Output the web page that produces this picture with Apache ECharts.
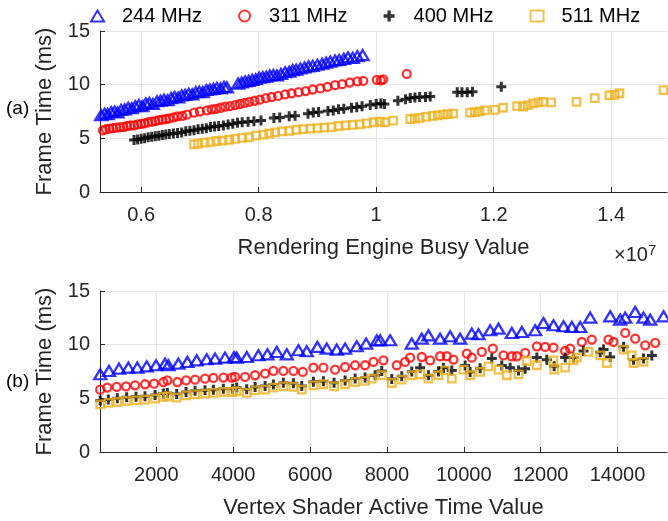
<!DOCTYPE html>
<html><head><meta charset="utf-8">
<script src="https://cdn.jsdelivr.net/npm/echarts@6.0.0/dist/echarts.min.js"></script>
<style>html,body{margin:0;padding:0;background:#fff}#c{width:668px;height:521px}</style>
</head><body><div id="c"></div>
<script>
// ---- Data ----
const seriesNames = ['244 MHz', '311 MHz', '400 MHz', '511 MHz'];
// Top panel: x = Rendering Engine Busy Value (units of 1e7), y = Frame Time (ms)
const top244 = [[0.532,7.15],[0.538,7.3],[0.543,7.25],[0.549,7.45],[0.555,7.5],[0.560,7.4],[0.566,7.65],[0.572,7.7],[0.578,7.85],[0.584,7.8],[0.590,8.0],[0.596,8.1],[0.602,8.0],[0.608,8.25],[0.614,8.3],[0.620,8.2],[0.627,8.45],[0.633,8.5],[0.639,8.6],[0.645,8.55],[0.651,8.75],[0.657,8.85],[0.663,8.8],[0.669,9.0],[0.675,9.05],[0.681,9.15],[0.687,9.1],[0.693,9.3],[0.699,9.35],[0.705,9.3],[0.711,9.5],[0.717,9.55],[0.723,9.6],[0.729,9.7],[0.735,9.65],[0.741,9.8],[0.746,9.75],
  [0.765,10.1],[0.771,10.2],[0.777,10.3],[0.783,10.35],[0.789,10.45],[0.795,10.5],[0.801,10.65],[0.807,10.7],[0.813,10.75],[0.819,10.85],[0.825,10.9],[0.831,10.85],[0.838,11.0],[0.845,11.15],[0.852,11.2],[0.858,11.35],[0.864,11.4],[0.871,11.5],[0.878,11.6],[0.885,11.7],[0.892,11.75],[0.900,11.85],[0.908,11.95],[0.915,12.05],[0.922,12.15],[0.930,12.25],[0.937,12.3],[0.945,12.4],[0.952,12.55],[0.960,12.5],[0.968,12.65],[0.977,12.75]];
const top311 = [[0.535,5.75],[0.540,5.85],[0.546,5.9],[0.552,5.95],[0.558,6.0],[0.564,6.05],[0.570,6.05],[0.576,6.15],[0.582,6.2],[0.588,6.2],[0.594,6.3],[0.600,6.35],[0.606,6.4],[0.612,6.5],[0.618,6.55],[0.624,6.6],[0.630,6.7],[0.636,6.75],[0.642,6.8],[0.648,6.85],[0.655,6.95],[0.662,7.05],[0.670,7.1],[0.678,7.2],[0.690,7.4],[0.700,7.5],[0.712,7.6],[0.720,7.7],[0.727,7.75],[0.735,7.85],[0.743,7.95],[0.751,8.0],[0.760,8.1],[0.768,8.2],[0.776,8.3],[0.784,8.4],[0.793,8.5],[0.802,8.6],[0.812,8.75],[0.822,8.85],[0.833,8.95],[0.845,9.1],[0.856,9.2],[0.868,9.3],[0.880,9.4],[0.892,9.55],[0.905,9.65],[0.917,9.8],[0.930,9.95],[0.942,10.05],[0.955,10.2],[0.968,10.3],[0.978,10.35],[1.001,10.45],[1.008,10.4],[1.012,10.5],[1.052,11.0]];
const top400 = [[0.588,4.85],[0.594,4.9],[0.600,4.95],[0.606,5.0],[0.612,5.1],[0.618,5.15],[0.624,5.2],[0.630,5.25],[0.636,5.3],[0.642,5.35],[0.648,5.4],[0.655,5.45],[0.662,5.5],[0.669,5.55],[0.676,5.65],[0.683,5.7],[0.690,5.75],[0.697,5.85],[0.704,5.9],[0.711,5.95],[0.718,6.05],[0.725,6.1],[0.732,6.15],[0.740,6.2],[0.748,6.3],[0.756,6.35],[0.764,6.45],[0.772,6.5],[0.782,6.55],[0.792,6.6],[0.804,6.65],[0.826,6.9],[0.836,6.95],[0.852,7.05],[0.862,7.1],[0.884,7.3],[0.893,7.4],[0.902,7.45],[0.918,7.55],[0.927,7.6],[0.936,7.7],[0.945,7.75],[0.958,7.85],[0.967,7.9],[0.976,8.0],[0.990,8.1],[1.000,8.2],[1.008,8.25],[1.014,8.2],[1.037,8.5],[1.050,8.65],[1.058,8.75],[1.066,8.8],[1.074,8.85],[1.084,8.85],[1.092,8.9],[1.138,9.3],[1.146,9.3],[1.155,9.3],[1.164,9.35],[1.213,9.8]];
const top511 = [[0.690,4.45],[0.697,4.5],[0.708,4.6],[0.718,4.65],[0.728,4.75],[0.738,4.8],[0.750,4.85],[0.760,4.95],[0.772,5.05],[0.783,5.1],[0.796,5.25],[0.808,5.35],[0.818,5.45],[0.828,5.55],[0.840,5.65],[0.852,5.7],[0.864,5.8],[0.876,5.85],[0.888,5.9],[0.900,5.95],[0.912,6.0],[0.924,6.05],[0.936,6.15],[0.948,6.2],[0.960,6.25],[0.972,6.3],[0.984,6.4],[0.996,6.5],[1.006,6.55],[1.015,6.5],[1.029,6.65],[1.058,6.8],[1.066,6.85],[1.074,6.9],[1.085,7.0],[1.096,7.1],[1.105,7.15],[1.114,7.2],[1.122,7.25],[1.131,7.3],[1.160,7.4],[1.168,7.45],[1.176,7.5],[1.185,7.6],[1.202,7.65],[1.216,7.85],[1.240,8.0],[1.250,7.95],[1.258,8.1],[1.267,8.25],[1.276,8.35],[1.284,8.4],[1.298,8.35],[1.341,8.4],[1.372,8.75],[1.397,9.0],[1.406,9.05],[1.414,9.2],[1.489,9.5]];
// Bottom panel: x = Vertex Shader Active Time Value, y = Frame Time (ms)
const bot244 = [[540,7.24],[768,7.55],[1029,7.77],[1272,7.86],[1506,7.86],[1749,7.98],[1992,8.08],[2226,8.23],[2313,8.08],[2573,8.23],[2807,8.39],[3050,8.54],[3311,8.64],[3528,8.70],[3788,8.79],[4022,8.85],[4092,8.79],[4352,8.85],[4656,9.01],[4890,9.10],[5133,9.32],[5394,9.10],[5697,9.48],[5914,9.38],[6191,9.79],[6434,9.63],[6694,9.54],[6912,9.63],[7215,9.85],[7458,10.1],[7736,10.4],[7822,10.41],[8083,10.41],[8646,10.10],[8907,10.56],[9080,10.87],[9384,10.56],[9644,10.78],[9905,10.56],[10208,11.03],[10382,10.97],[10686,11.34],[10903,11.49],[11250,11.09],[11510,11.18],[11857,11.34],[12074,12.02],[12334,11.81],[12595,11.71],[12812,11.65],[13029,11.65],[13289,12.52],[13810,12.64],[14070,12.33],[14200,12.52],[14460,13.05],[14677,12.52],[14851,12.33],[15198,12.64]];
const bot311 = [[540,5.81],[725,6.00],[968,6.06],[1211,6.12],[1445,6.21],[1705,6.31],[1940,6.37],[2183,6.52],[2287,6.68],[2547,6.52],[2773,6.68],[3007,6.74],[3267,6.83],[3484,6.90],[3744,6.93],[3961,6.93],[4048,6.99],[4309,6.99],[4569,7.15],[4829,7.30],[5046,7.55],[5306,7.55],[5567,7.55],[5810,7.46],[6087,7.86],[6348,7.86],[6651,7.67],[6912,7.92],[7172,8.08],[7432,8.08],[7649,8.39],[7909,8.54],[8256,8.08],[8473,8.39],[8603,8.79],[8907,8.85],[9124,8.54],[9384,8.92],[9558,8.92],[9731,8.61],[10079,9.16],[10208,8.79],[10469,9.32],[10755,9.63],[11033,9.01],[11250,8.92],[11380,8.92],[11597,9.23],[11901,9.85],[12117,9.79],[12334,9.72],[12638,9.41],[12768,9.63],[13072,10.25],[13332,10.47],[13766,10.47],[13896,10.25],[14200,11.09],[14460,10.56],[14721,9.94],[14981,10.16]];
const bot400 = [[540,4.8],[751,4.9],[985,5.0],[1228,5.1],[1471,5.15],[1705,5.2],[1966,5.3],[2183,5.45],[2287,5.5],[2530,5.4],[2773,5.6],[3007,5.7],[3267,5.75],[3484,5.8],[3744,5.9],[3987,5.9],[4092,6.0],[4352,5.85],[4569,6.05],[4829,6.15],[5046,6.3],[5306,6.45],[5567,6.4],[5784,6.15],[6087,6.55],[6348,6.6],[6625,6.45],[6912,6.65],[7172,6.85],[7432,6.95],[7692,7.15],[7866,7.55],[8126,6.8],[8386,7.05],[8646,7.5],[8864,7.85],[9080,7.15],[9341,7.5],[9471,7.85],[9688,7.6],[10035,8.05],[10165,7.45],[10425,7.8],[10729,8.7],[10989,8.05],[11206,7.85],[11424,7.6],[11597,7.75],[11901,8.8],[12161,8.6],[12352,8.0],[12638,8.8],[12855,8.8],[13115,9.4],[13549,9.3],[13636,9.55],[13810,8.85],[14157,9.8],[14417,8.6],[14677,8.7],[14894,9.0]];
const bot511 = [[540,4.44],[751,4.57],[985,4.66],[1228,4.75],[1471,4.81],[1705,4.88],[1966,4.97],[2183,5.13],[2287,5.19],[2530,5.06],[2773,5.28],[3007,5.37],[3267,5.44],[3484,5.50],[3744,5.59],[3987,5.59],[4092,5.68],[4352,5.50],[4569,5.75],[4829,5.81],[5046,6.00],[5306,6.12],[5567,6.06],[5784,5.81],[6087,6.21],[6348,6.31],[6625,6.12],[6912,6.31],[7172,6.52],[7432,6.62],[7605,6.83],[7866,7.15],[8126,6.43],[8386,6.74],[8646,7.15],[8864,7.24],[9080,6.83],[9341,7.15],[9514,7.61],[9688,6.83],[9992,7.67],[10165,7.15],[10425,7.46],[10642,7.98],[10903,7.67],[11120,7.15],[11424,7.24],[11640,8.48],[11901,8.08],[12334,8.54],[12352,7.67],[12638,7.86],[12855,8.54],[12942,8.79],[13245,9.32],[13549,9.01],[13723,8.29],[14157,9.54],[14373,9.01],[14417,8.29],[14677,8.39]];
const topXTicks = [0.6, 0.8, 1, 1.2, 1.4];
const botXTicks = [2000, 4000, 6000, 8000, 10000, 12000, 14000];

// ---- Styles ----
const FONT = 'Liberation Sans, Arial, sans-serif';
const AX = '#262626';
const GRIDC = '#e4e4e4';
const plusPath = 'path://M0,2.8H8V5.2H0Z M2.8,0H5.2V8H2.8Z';
const styles = [
  {symbol: 'triangle', symbolSize: [12, 10], itemStyle: {color: 'rgba(0,0,0,0)', borderColor: '#0000ff', borderWidth: 2.3}},
  {symbol: 'circle', symbolSize: 8, itemStyle: {color: 'rgba(0,0,0,0)', borderColor: '#ff0000', borderWidth: 2.3}},
  {symbol: plusPath, symbolSize: 10, itemStyle: {color: '#000000', borderWidth: 0}},
  {symbol: 'rect', symbolSize: 7.5, itemStyle: {color: 'rgba(0,0,0,0)', borderColor: '#EDB120', borderWidth: 2.3}}
];

function xAxis(grid, min, max, ticks, name, fmt) {
  return {
    type: 'value', gridIndex: grid, min: min, max: max,
    name: name, nameLocation: 'middle', nameGap: 45,
    nameTextStyle: {fontFamily: FONT, fontSize: 22, color: AX},
    axisLine: {show: true, onZero: false, lineStyle: {color: AX, width: 1}},
    axisTick: {show: true, inside: true, length: 5, customValues: ticks, lineStyle: {color: AX}},
    axisLabel: {customValues: ticks, margin: 13, fontFamily: FONT, fontSize: 20, color: AX, formatter: fmt},
    splitLine: {show: true, lineStyle: {color: GRIDC, width: 1}}
  };
}
function yAxis(grid) {
  return {
    type: 'value', gridIndex: grid, min: 0, max: 15, interval: 5,
    name: 'Frame Time (ms)', nameLocation: 'middle', nameGap: 44,
    nameTextStyle: {fontFamily: FONT, fontSize: 22, color: AX},
    axisLine: {show: true, lineStyle: {color: AX, width: 1}},
    axisTick: {show: true, inside: true, length: 5, lineStyle: {color: AX}},
    axisLabel: {margin: 10, fontFamily: FONT, fontSize: 20, color: AX, formatter: v => String(v)},
    splitLine: {show: true, lineStyle: {color: GRIDC, width: 1}}
  };
}

const topData = [top244, top311, top400, top511];
const botData = [bot244, bot311, bot400, bot511];
const series = [];
[topData, botData].forEach((set, g) => {
  set.forEach((d, i) => {
    series.push(Object.assign({
      type: 'scatter', name: seriesNames[i], xAxisIndex: g, yAxisIndex: g,
      data: d, clip: false, silent: true, animation: false
    }, styles[i]));
  });
});

const chart = echarts.init(document.getElementById('c'), null, {renderer: 'canvas'});
chart.setOption({
  animation: false,
  backgroundColor: '#ffffff',
  textStyle: {fontFamily: FONT},
  legend: {
    data: seriesNames, left: 85, top: 1, itemWidth: 13, itemHeight: 11, itemGap: 36,
    textStyle: {fontFamily: FONT, fontSize: 20, color: '#000', padding: [0, 0, 0, 13]}
  },
  grid: [
    {left: 100, top: 31, width: 567, height: 161},
    {left: 100, top: 291, width: 567, height: 161}
  ],
  xAxis: [
    xAxis(0, 0.53, 1.495, topXTicks, 'Rendering Engine Busy Value', v => String(Math.round(v * 10) / 10)),
    xAxis(1, 534, 15288, botXTicks, 'Vertex Shader Active Time Value', v => String(Math.round(v)))
  ],
  yAxis: [yAxis(0), yAxis(1)],
  series: series,
  graphic: [
    {type: 'text', left: 6, top: 99, style: {text: '(a)', font: '19px ' + FONT, fill: '#000'}},
    {type: 'text', left: 6, top: 372, style: {text: '(b)', font: '19px ' + FONT, fill: '#000'}},
    {type: 'text', left: 614, top: 243, style: {
      text: '×10{s|7}', font: '20px ' + FONT, fill: AX,
      rich: {s: {fontSize: 15, fontFamily: FONT, fill: AX, verticalAlign: 'top', padding: [0, 0, 10, 0]}}
    }}
  ]
});
</script>
</body></html>
